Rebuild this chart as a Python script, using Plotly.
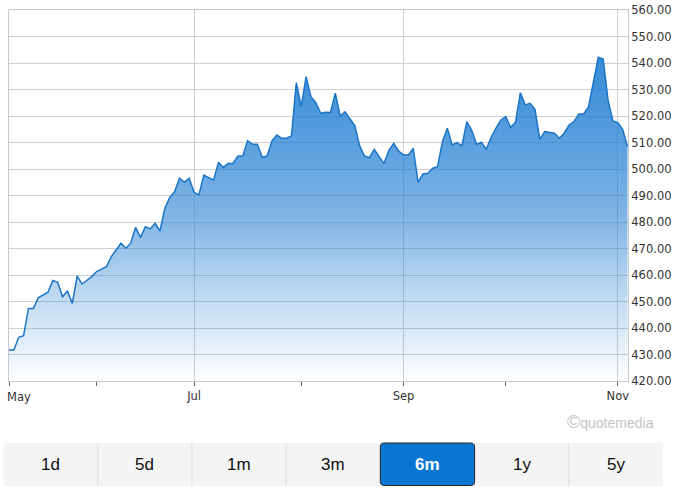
import plotly.graph_objects as go

# ---- data ----
prices = [
    431.7, 431.7, 436.5, 437.1, 447.4, 447.4, 451.4, 452.5, 453.5, 457.9,
    457.2, 451.8, 453.9, 449.3, 459.7, 456.6, 457.9, 459.4, 461.3, 462.1,
    463.1, 466.9, 469.7, 472.0, 470.1, 472.0, 478.0, 474.2, 478.2, 477.4,
    479.5, 476.6, 485.2, 489.3, 491.4, 496.5, 495.0, 496.5, 491.2, 490.2,
    497.7, 496.9, 495.8, 502.5, 500.6, 502.1, 502.1, 504.9, 504.9, 510.7,
    509.3, 509.3, 504.4, 504.9, 510.6, 512.8, 511.6, 511.6, 512.5, 532.6,
    523.5, 534.8, 527.3, 525.0, 521.0, 521.4, 521.3, 528.6, 520.0, 521.6,
    519.1, 516.4, 508.7, 504.9, 504.3, 507.4, 504.7, 502.1, 507.0, 509.7,
    506.8, 505.3, 505.3, 507.8, 495.0, 498.1, 498.4, 500.3, 500.9, 510.3,
    515.4, 509.1, 510.0, 508.7, 517.9, 514.6, 509.3, 510.1, 507.4, 512.0,
    515.4, 518.5, 519.8, 515.7, 517.6, 528.8, 524.2, 524.8, 522.5, 511.2,
    514.1, 513.7, 513.5, 511.6, 513.5, 516.6, 517.9, 520.8, 520.8, 523.5,
    532.3, 542.2, 541.5, 526.0, 518.1, 517.5, 515.0, 508.4,
]
day_index = list(range(len(prices)))

month_tick_idx = [0, 38, 81, 125]
month_tick_labels = ["May", "Jul", "Sep", "Nov"]
minor_tick_idx = [18, 60, 102]

y_ticks = [420, 430, 440, 450, 460, 470, 480, 490, 500, 510, 520, 530, 540, 550, 560]

range_buttons = ["1d", "5d", "1m", "3m", "6m", "1y", "5y"]
selected_button = "6m"
watermark_symbol = "\u00a9"
watermark_text = "quotemedia"

# ---- layout geometry helpers (pixel -> paper) ----
W, H = 676, 492
L, R, T, B = 9, 48, 10, 111
PW, PH = W - L - R, H - T - B


def px_x(px):
    return (px - L) / PW


def px_y(py):
    return (H - B - py) / PH


fig = go.Figure()
fig.add_trace(go.Scatter(
    x=day_index, y=prices, mode="lines",
    line=dict(color="#1b75c7", width=1.5),
    fill="tozeroy",
    fillgradient=dict(
        type="vertical", start=420, stop=560,
        colorscale=[
            [0.0, "rgba(31,125,210,0.0)"],
            [0.143, "rgba(31,125,210,0.18)"],
            [0.286, "rgba(31,125,210,0.36)"],
            [0.429, "rgba(31,125,210,0.55)"],
            [0.571, "rgba(31,125,210,0.68)"],
            [0.786, "rgba(31,125,210,0.84)"],
            [1.0, "rgba(31,125,210,0.95)"],
        ],
    ),
    hoverinfo="skip", showlegend=False,
))

axis_font = dict(family="DejaVu Sans", size=11.5, color="#333333")

fig.update_xaxes(
    range=[0, len(prices) - 0.9],
    tickmode="array", tickvals=month_tick_idx,
    ticktext=[""] + month_tick_labels[1:],
    ticks="outside", ticklen=4, tickcolor="#666666", tickwidth=1,
    tickfont=axis_font, automargin=False,
    showgrid=True, gridcolor="#cfcfcf", gridwidth=1,
    showline=True, linecolor="#c8c8c8", linewidth=1, mirror=True,
    zeroline=False, fixedrange=True,
    minor=dict(tickmode="array", tickvals=minor_tick_idx, ticks="outside",
               ticklen=4, tickcolor="#666666", showgrid=False),
)
fig.update_yaxes(
    range=[420, 560], side="right",
    tickmode="array", tickvals=y_ticks, tickformat=".2f",
    tickfont=axis_font, ticks="", automargin=False,
    showgrid=True, gridcolor="#cfcfcf", gridwidth=1,
    showline=True, linecolor="#c8c8c8", linewidth=1, mirror=True,
    zeroline=False, fixedrange=True,
)

annotations = []
# first month label kept inside the chart (left-aligned at the edge)
annotations.append(dict(
    x=month_tick_idx[0], y=0, xref="x", yref="paper",
    text=month_tick_labels[0], showarrow=False,
    xanchor="left", yanchor="top", xshift=-4, yshift=-7,
    font=axis_font,
))
# watermark
annotations.append(dict(
    x=px_x(656), y=px_y(421.5), xref="paper", yref="paper",
    text=f'<span style="font-size:18px">{watermark_symbol}</span>{watermark_text}',
    showarrow=False, xanchor="right", yanchor="middle",
    font=dict(family="Liberation Sans", size=14, color="#c4c4c4"),
))

shapes = []
bx0, bx1, by0, by1 = 3.5, 663.0, 443.0, 486.0
bw = (bx1 - bx0) / len(range_buttons)
shapes.append(dict(type="rect", xref="paper", yref="paper",
                   x0=px_x(bx0), x1=px_x(bx1), y0=px_y(by1), y1=px_y(by0),
                   fillcolor="#f4f4f4", line=dict(width=0), layer="below"))
for k in range(1, len(range_buttons)):
    xs = bx0 + bw * k
    shapes.append(dict(type="line", xref="paper", yref="paper",
                       x0=px_x(xs), x1=px_x(xs), y0=px_y(by1), y1=px_y(by0),
                       line=dict(color="#dedede", width=1)))


def rounded_rect_path(x0, y0, x1, y1, r):
    pts = [
        ("M", x0 + r, y0), ("L", x1 - r, y0), ("Q", x1, y0, x1, y0 + r),
        ("L", x1, y1 - r), ("Q", x1, y1, x1 - r, y1), ("L", x0 + r, y1),
        ("Q", x0, y1, x0, y1 - r), ("L", x0, y0 + r), ("Q", x0, y0, x0 + r, y0),
    ]
    out = []
    for p in pts:
        cmd = p[0]
        coords = p[1:]
        conv = []
        for i in range(0, len(coords), 2):
            conv.append(f"{px_x(coords[i]):.6f},{px_y(coords[i + 1]):.6f}")
        out.append(cmd + " ".join(conv))
    return " ".join(out) + " Z"


for i, lab in enumerate(range_buttons):
    cx = bx0 + bw * (i + 0.5)
    sel = lab == selected_button
    if sel:
        shapes.append(dict(type="path", xref="paper", yref="paper",
                           path=rounded_rect_path(bx0 + bw * i, by0, bx0 + bw * (i + 1), by1 - 0.5, 4),
                           fillcolor="#0777d1", line=dict(color="#262626", width=1)))
    annotations.append(dict(
        x=px_x(cx), y=px_y((by0 + by1) / 2), xref="paper", yref="paper",
        text=f"<b>{lab}</b>" if sel else lab, showarrow=False,
        xanchor="center", yanchor="middle",
        font=dict(family="Liberation Sans", size=17,
                  color="#ffffff" if sel else "#111111"),
    ))

fig.update_layout(
    width=W, height=H,
    margin=dict(l=L, r=R, t=T, b=B, pad=0, autoexpand=False),
    paper_bgcolor="#ffffff", plot_bgcolor="#ffffff",
    showlegend=False,
    annotations=annotations, shapes=shapes,
    hovermode=False,
)

fig.write_html(
    "out.html",
    config={"displayModeBar": False},
    post_script="document.body.style.margin='0';document.body.style.overflow='hidden';",
)
